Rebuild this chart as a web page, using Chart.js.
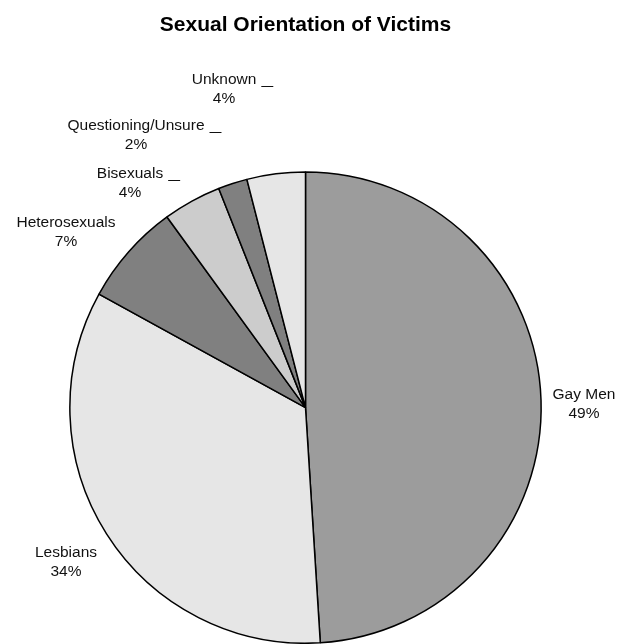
<!DOCTYPE html>
<html>
<head>
<meta charset="utf-8">
<script src="https://cdn.jsdelivr.net/npm/chart.js@4"></script>
<style>
  html, body { margin: 0; padding: 0; background: #fff; }
  #wrap { width: 617px; height: 644px; position: relative; }
</style>
</head>
<body>
<div id="wrap"><canvas id="pie"></canvas></div>
<script>
// Sexual orientation of victims — percentages
const categories = ['Gay Men', 'Lesbians', 'Heterosexuals', 'Bisexuals', 'Questioning/Unsure', 'Unknown'];
const shares     = [49, 34, 7, 4, 2, 4];
const sliceFills = ['#9c9c9c', '#e6e6e6', '#808080', '#cccccc', '#808080', '#e6e6e6'];

// where the outside labels sit (x centre, first-line baseline), and if they get a leader dash
const labelAnchors = [[584, 399], [66, 557], [66, 227], [130, 178], [136, 130], [224, 84]];
const labelDash    = [false, false, false, true, true, true];

const FONT = '"Liberation Sans", Arial, Helvetica, sans-serif';

// Excel-style outside labels: name on one line, percent under it
const outsideLabels = {
  id: 'outsideLabels',
  afterDatasetsDraw(chart) {
    const ctx = chart.ctx;
    ctx.save();
    ctx.font = '15.5px ' + FONT;
    ctx.fillStyle = '#111';
    ctx.textAlign = 'center';
    ctx.textBaseline = 'alphabetic';
    categories.forEach((name, i) => {
      const [x, y] = labelAnchors[i];
      ctx.fillText(name, x, y);
      ctx.fillText(shares[i] + '%', x, y + 19);
      if (labelDash[i]) {
        const w = ctx.measureText(name).width;
        const x0 = x + w / 2 + 5;
        ctx.strokeStyle = '#111';
        ctx.lineWidth = 1;
        ctx.beginPath();
        ctx.moveTo(x0, y + 2.5);
        ctx.lineTo(x0 + 12, y + 2.5);
        ctx.stroke();
      }
    });
    ctx.restore();
  }
};

new Chart(document.getElementById('pie'), {
  type: 'pie',
  data: {
    labels: categories,
    datasets: [{
      data: shares,
      backgroundColor: sliceFills,
      borderColor: '#000',
      borderWidth: 1.5,
    }],
  },
  options: {
    responsive: true,
    maintainAspectRatio: false,
    animation: false,
    layout: { padding: { left: 69, right: 75, top: 0, bottom: 0 } },
    plugins: {
      legend: { display: false },
      tooltip: { enabled: false },
      title: {
        display: true,
        text: 'Sexual Orientation of Victims',
        color: '#000',
        font: { family: FONT, size: 21, weight: 'bold' },
        padding: { top: 13, bottom: 133 },
      },
    },
  },
  plugins: [outsideLabels],
});
</script>
</body>
</html>
